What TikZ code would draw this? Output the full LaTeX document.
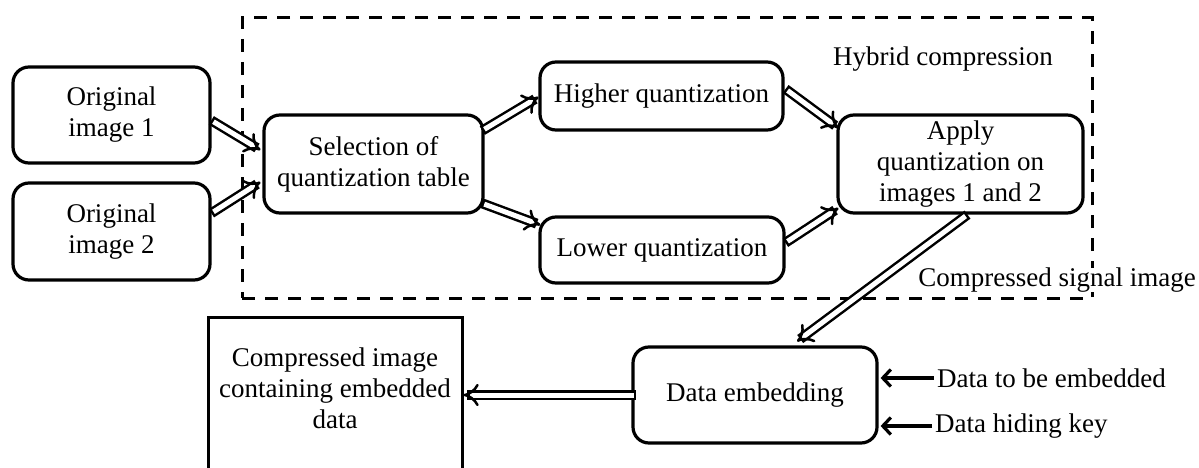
\documentclass[tikz,border=0pt]{standalone}
\usepackage{fontspec}
\setmainfont{Liberation Serif}
\usetikzlibrary{arrows.meta,calc}
\begin{document}
\begin{tikzpicture}[x=1pt,y=-1pt,
  every node/.style={font=\fontsize{27pt}{31pt}\selectfont, text=black},
  rbox/.style={draw, line width=3.2pt, rounded corners=16pt, align=center, inner sep=0pt},
  sqbox/.style={draw, line width=3pt, inner sep=0pt},
  hollow/.style={double, double distance=5pt, line width=2.5pt, line cap=rect, -{Implies[scale=2]}},
  thinarrow/.style={line width=3.2pt, -{Straight Barb[length=8pt,width=17pt]}},
  hybridbox/.style={draw, line width=3pt, dash pattern=on 13pt off 10pt, inner sep=0pt},
  lbl/.style={inner sep=0pt}
]
\useasboundingbox (0,0) rectangle (1199,468);
\clip (0,0) rectangle (1199,468);

\node[hybridbox, minimum width=850pt, minimum height=280pt] (hybox) at (667,158) {};

\node[rbox, minimum width=197pt, minimum height=96pt] (o1) at (111.5,115) {Original\\image 1};
\node[rbox, minimum width=197pt, minimum height=97pt] (o2) at (111.5,231.5) {Original\\image 2};
\node[rbox, minimum width=219pt, minimum height=98pt] (sel) at (373.5,164) {Selection of\\quantization table};
\node[rbox, minimum width=243pt, minimum height=68pt] (hq) at (661.5,96) {Higher quantization};
\node[rbox, minimum width=244pt, minimum height=66pt] (lq) at (662,250) {Lower quantization};
\node[rbox, minimum width=245pt, minimum height=98pt] (ap) at (960.5,164) {Apply\\quantization on\\images 1 and 2};
\node[rbox, minimum width=244pt, minimum height=96pt] (de) at (755,395) {Data embedding};
\node[sqbox, minimum width=254pt, minimum height=165pt] (ci) at (335,399.5) {};
\node[lbl, align=center] (citxt) at (335,388) {Compressed image\\containing embedded\\data};

\node[lbl] (hyb) at (943,59) {Hybrid compression};
\node[lbl, fill=white] (csi) at (1057,280) {Compressed signal image};
\node[lbl, anchor=west] (t1) at (937,378) {Data to be embedded};
\node[lbl, anchor=west] (t2) at (935,426) {Data hiding key};

\draw[hollow] ([shift={(4,8)}]o1.east) -- ([shift={(-2,-14)}]sel.west);
\draw[hollow] ([shift={(4,-21)}]o2.east) -- ([shift={(-2,18)}]sel.west);
\draw[hollow] ([shift={(2,-36)}]sel.east) -- ([shift={(0,1)}]hq.west);
\draw[hollow] ([shift={(2,41)}]sel.east) -- ([shift={(2,-25)}]lq.west);
\draw[hollow] ([shift={(5,-4)}]hq.east) -- ([shift={(2,-36)}]ap.west);
\draw[hollow] ([shift={(4,-10)}]lq.east) -- ([shift={(2,44)}]ap.west);
\draw[hollow] ([shift={(3,3)}]ap.south) -- ([shift={(42,-4)}]de.north);
\draw[hollow] (de.west) -- (de.west -| ci.east);

\draw[thinarrow] ([xshift=-3pt]t1.west) -- ([xshift=2pt]t1.west -| de.east);
\draw[thinarrow] ([xshift=-3pt]t2.west) -- ([xshift=2pt]t2.west -| de.east);
\end{tikzpicture}
\end{document}
